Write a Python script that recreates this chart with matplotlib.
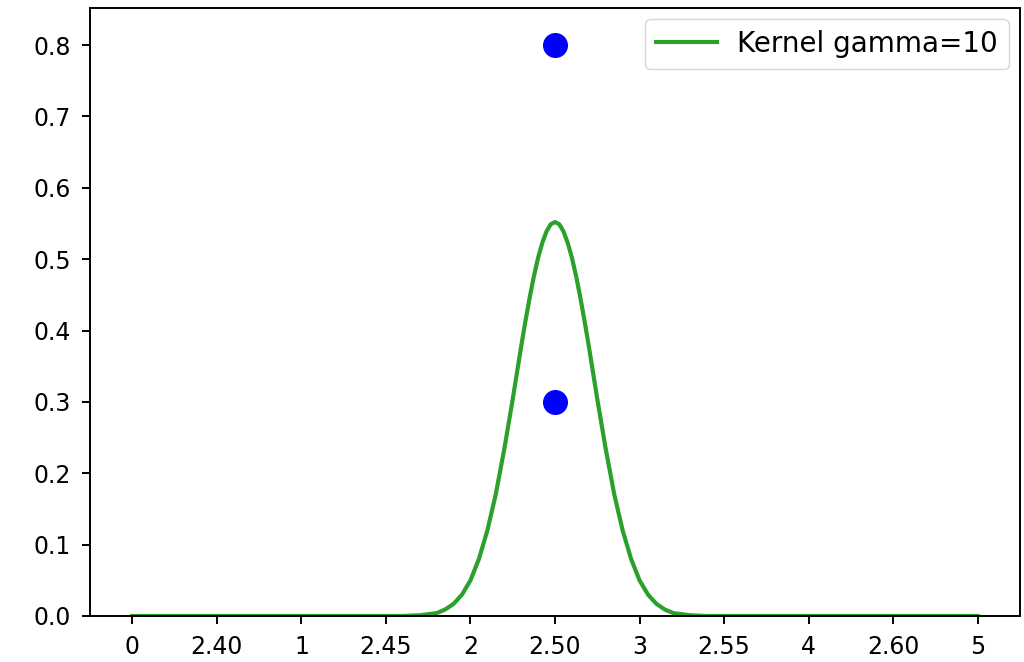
import matplotlib
matplotlib.use('Agg')
import matplotlib.pyplot as plt

# Kernel curve, values
kernel_x = [0.0, 1.5, 1.6, 1.7, 1.8, 1.85, 1.9, 1.95, 2.0, 2.05, 2.1, 2.15, 2.2,
            2.25, 2.3, 2.325, 2.35, 2.375, 2.4, 2.425, 2.45, 2.475, 2.5,
            2.525, 2.55, 2.575, 2.6, 2.625, 2.65, 2.675, 2.7, 2.75, 2.8,
            2.85, 2.9, 2.95, 3.0, 3.05, 3.1, 3.15, 3.2, 3.3, 3.4, 3.5, 5.0]
kernel_y = [0.0, 0.0, 0.0, 0.001, 0.004, 0.009, 0.017, 0.030, 0.050, 0.080, 0.120,
            0.171, 0.234, 0.304, 0.378, 0.413, 0.446, 0.476, 0.502, 0.523, 0.539,
            0.549, 0.552, 0.549, 0.539, 0.523, 0.502, 0.476, 0.446, 0.413, 0.378,
            0.304, 0.234, 0.171, 0.120, 0.080, 0.050, 0.030, 0.017, 0.009, 0.004,
            0.001, 0.0, 0.0, 0.0]

# Blue points
point_x = [2.5, 2.5]
point_y = [0.8, 0.3]

# Tick labels (two sets overlap on the x axis)
tick_pos = [0, 0.5, 1, 1.5, 2, 2.5, 3, 3.5, 4, 4.5, 5]
tick_labels = ['0', '2.40', '1', '2.45', '2', '2.50', '3', '2.55', '4', '2.60', '5']

fig = plt.figure(figsize=(10.24, 6.62), dpi=100)
ax = fig.add_axes([0.088, 0.0695, 0.908, 0.9185])

ax.plot(kernel_x, kernel_y, color='#2ca02c', linewidth=3, label='Kernel gamma=10')
ax.plot(point_x, point_y, 'o', color='blue', markersize=17)

ax.set_xlim(-0.25, 5.25)
ax.set_ylim(0, 0.852)
ax.set_xticks(tick_pos)
ax.set_xticklabels(tick_labels)
ax.set_yticks([0.0, 0.1, 0.2, 0.3, 0.4, 0.5, 0.6, 0.7, 0.8])

ax.tick_params(labelsize=17, length=6, width=1.4, pad=8)
for s in ax.spines.values():
    s.set_linewidth(1.4)

ax.legend(loc='upper right', fontsize=20, handlelength=2.2, handletextpad=0.7,
          borderpad=0.4, borderaxespad=0.4)

fig.savefig('out.png', dpi=100)
